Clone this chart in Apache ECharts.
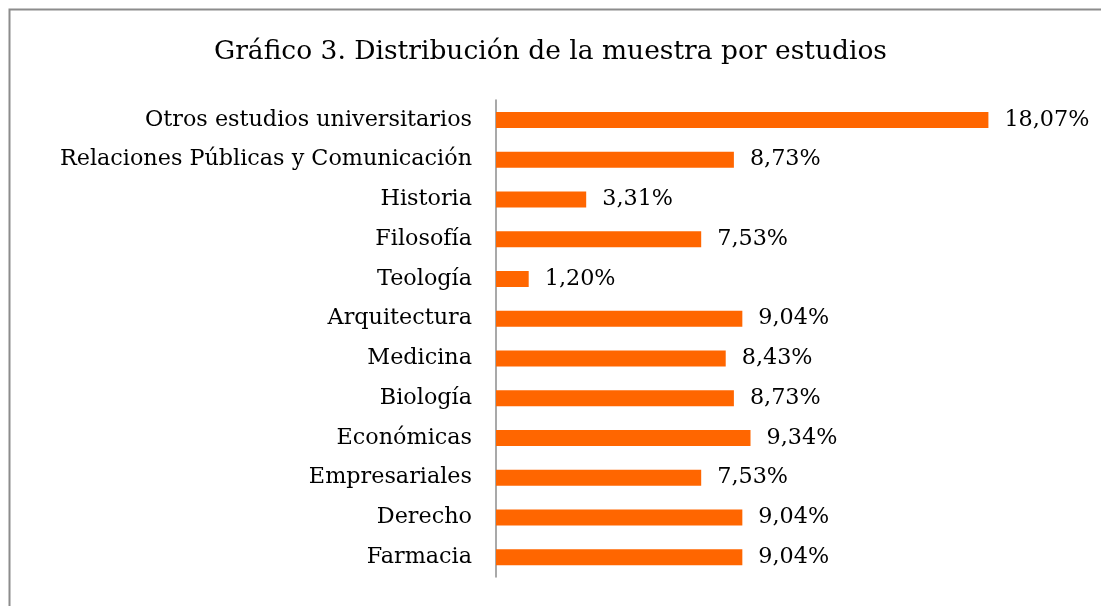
<!DOCTYPE html>
<html>
<head>
<meta charset="utf-8">
<title>Gráfico 3</title>
<script src="https://cdn.jsdelivr.net/npm/echarts@6/dist/echarts.min.js"></script>
<style>
  html, body { margin: 0; padding: 0; background: #fff; }
  #chart { width: 1101px; height: 606px; }
</style>
</head>
<body>
<div id="chart"></div>
<script>
// categorias de arriba a abajo
var categories = [
  'Otros estudios universitarios',
  'Relaciones Públicas y Comunicación',
  'Historia',
  'Filosofía',
  'Teología',
  'Arquitectura',
  'Medicina',
  'Biología',
  'Económicas',
  'Empresariales',
  'Derecho',
  'Farmacia'
];
var percentages = [18.07, 8.73, 3.31, 7.53, 1.20, 9.04, 8.43, 8.73, 9.34, 7.53, 9.04, 9.04];

var serif = '"DejaVu Serif", "Liberation Serif", serif';

var myChart = echarts.init(document.getElementById('chart'));
var option = {
  animation: false,
  title: {
    text: 'Gráfico 3. Distribución de la muestra por estudios',
    left: 'center',
    top: 34,
    textStyle: { fontFamily: serif, fontSize: 26.5, fontWeight: 'normal', color: '#000' }
  },
  graphic: [{
    type: 'rect',
    shape: { x: 9.5, y: 9.5, width: 1200, height: 700 },
    style: { fill: 'none', stroke: '#8c8c8c', lineWidth: 2 }
  }],
  grid: { left: 496, right: 60, top: 100, bottom: 29, containLabel: false },
  xAxis: {
    type: 'value',
    min: 0,
    max: 20,
    show: false
  },
  yAxis: {
    type: 'category',
    data: categories,
    inverse: true,
    axisLine: { show: true, lineStyle: { color: '#8c8c8c', width: 1.5 } },
    axisTick: { show: false },
    axisLabel: { fontFamily: serif, fontSize: 22.3, color: '#000', margin: 24 }
  },
  series: [{
    type: 'bar',
    data: percentages,
    barWidth: 16,
    itemStyle: { color: '#ff6600' },
    label: {
      show: true,
      position: 'right',
      distance: 16,
      fontFamily: serif,
      fontSize: 22.3,
      color: '#000',
      formatter: function (p) { return p.value.toFixed(2).replace('.', ',') + '%'; }
    }
  }]
};
myChart.setOption(option);
</script>
</body>
</html>
